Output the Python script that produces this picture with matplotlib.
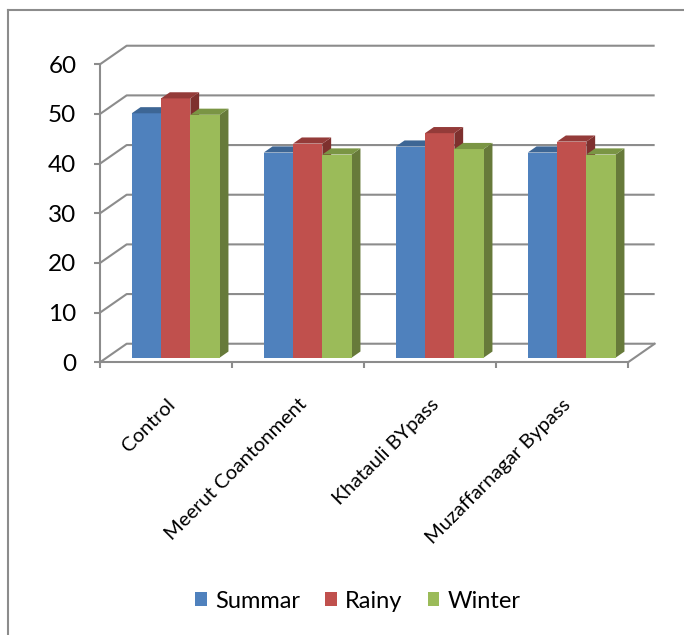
import matplotlib.pyplot as plt
from matplotlib.patches import Polygon, Patch
from matplotlib.lines import Line2D

plt.rcParams['font.family'] = ['Lato', 'DejaVu Sans']

sites = ['Control', 'Meerut Coantonment', 'Khatauli BYpass', 'Muzaffarnagar Bypass']
seasons = ['Summar', 'Rainy', 'Winter']
summar = [49.2, 41.3, 42.5, 41.3]
rainy = [52.2, 43.1, 45.2, 43.5]
winter = [48.9, 40.9, 42.0, 40.9]
y_ticks = [0, 10, 20, 30, 40, 50, 60]

front_cols = ['#4F81BD', '#C0504D', '#9BBB59']
top_cols = ['#3D6695', '#943B39', '#7A9544']
side_cols = ['#345783', '#7E302E', '#677A3A']
grid_col = '#8C8C8C'

# oblique offset for the full floor depth, in data units
DX, DY = 0.202, 3.74
Z0, Z1 = 0.25, 0.58      # front / back depth of the columns
BAR_W = 0.222
BAR_X0 = 0.19


def proj(x, y, z):
    return (x + z * DX, y + z * DY)


def column(ax, x0, v, j):
    x1 = x0 + BAR_W
    side = [proj(x1, 0, Z0), proj(x1, 0, Z1), proj(x1, v, Z1), proj(x1, v, Z0)]
    face = [proj(x0, 0, Z0), proj(x1, 0, Z0), proj(x1, v, Z0), proj(x0, v, Z0)]
    top = [proj(x0, v, Z0), proj(x1, v, Z0), proj(x1, v, Z1), proj(x0, v, Z1)]
    for pts, c in ((side, side_cols[j]), (face, front_cols[j]), (top, top_cols[j])):
        ax.add_patch(Polygon(pts, closed=True, facecolor=c, edgecolor='none',
                             zorder=3, clip_on=False))


fig = plt.figure(figsize=(6.84, 6.35), dpi=100)
ax = fig.add_axes([100 / 684, (635 - 362.3) / 635, 528 / 684, 298 / 635])
ax.set_xlim(0, 4)
ax.set_ylim(0, 60)
for s in ('top', 'right'):
    ax.spines[s].set_visible(False)
for s in ('left', 'bottom'):
    ax.spines[s].set_color(grid_col)
    ax.spines[s].set_linewidth(1.5)

# side wall + back wall gridlines
for v in y_ticks:
    ax.plot([0, DX, 4 + DX], [v, v + DY, v + DY], color=grid_col, lw=1.5,
            zorder=1, clip_on=False, solid_capstyle='butt')
# right edge of the floor
ax.plot([4, 4 + DX], [0, DY], color=grid_col, lw=1.5, zorder=1, clip_on=False)

values = [summar, rainy, winter]
for i in range(len(sites)):
    for j in range(len(seasons)):
        column(ax, i + BAR_X0 + j * BAR_W, values[j][i], j)

ax.set_yticks(y_ticks)
ax.tick_params(axis='y', length=4, width=1.5, color=grid_col, labelsize=17.5, pad=13)
ax.set_xticks([i + 0.5 for i in range(len(sites))])
ax.set_xticklabels(sites, rotation=45, ha='right', rotation_mode='anchor', fontsize=14.5)
ax.tick_params(axis='x', which='major', length=0, pad=24)
ax.set_xticks(range(len(sites) + 1), minor=True)
ax.tick_params(axis='x', which='minor', length=4, width=1.5, color=grid_col)

# outer frame (top and left edges)
fig.add_artist(Line2D([7.5 / 684, 1], [1 - 10 / 635, 1 - 10 / 635],
                      transform=fig.transFigure, color=grid_col, lw=1.5))
fig.add_artist(Line2D([7.5 / 684, 7.5 / 684], [0, 1 - 10 / 635],
                      transform=fig.transFigure, color=grid_col, lw=1.5))

handles = [Patch(facecolor=c, edgecolor='none', label=s) for c, s in zip(front_cols, seasons)]
fig.legend(handles=handles, loc='center', bbox_to_anchor=(358 / 684, 1 - 601 / 635),
           ncol=3, frameon=False, fontsize=17, handlelength=0.5, handleheight=0.5,
           handletextpad=0.35, columnspacing=1.05)

fig.savefig('out.png', dpi=100)
